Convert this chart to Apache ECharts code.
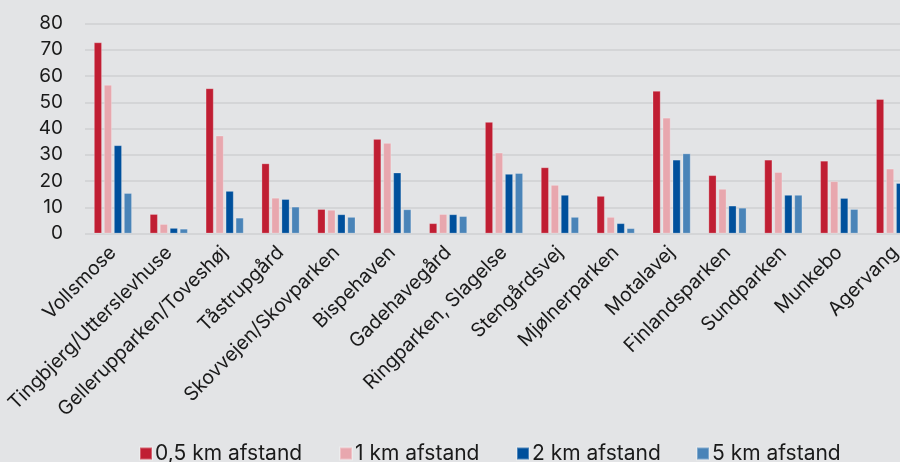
<!DOCTYPE html>
<html>
<head>
<meta charset="utf-8">
<script src="https://cdn.jsdelivr.net/npm/echarts@6/dist/echarts.min.js"></script>
<style>
html,body{margin:0;padding:0;background:#e3e4e6;overflow:hidden;}
#c{width:940px;height:462px;}
</style>
</head>
<body>
<div id="c"></div>
<script>
const categories = ["Vollsmose","Tingbjerg/Utterslevhuse","Gellerupparken/Toveshøj","Tåstrupgård","Skovvejen/Skovparken","Bispehaven","Gadehavegård","Ringparken, Slagelse","Stengårdsvej","Mjølnerparken","Motalavej","Finlandsparken","Sundparken","Munkebo","Agervang"];
const seriesNames = ["0,5 km afstand","1 km afstand","2 km afstand","5 km afstand"];
const km05 = [72.8, 7.4, 55.3, 26.7, 9.3, 36.0, 3.9, 42.5, 25.2, 14.3, 54.3, 22.2, 28.1, 27.7, 51.2];
const km1  = [56.6, 3.6, 37.3, 13.6, 9.0, 34.5, 7.4, 30.8, 18.5, 6.3, 44.1, 17.0, 23.4, 19.9, 24.7];
const km2  = [33.6, 2.1, 16.2, 13.1, 7.3, 23.2, 7.3, 22.7, 14.7, 3.9, 28.1, 10.6, 14.7, 13.5, 19.2];
const km5  = [15.4, 1.8, 6.0, 10.2, 6.3, 9.2, 6.6, 23.0, 6.3, 2.0, 30.5, 9.8, 14.7, 9.3, 10.0];
const yTicks = [0,10,20,30,40,50,60,70,80];

const colors = ["#c01e33","#e8a7ae","#00509c","#4a84b8"];
const FONT = "Inter";
const data = [km05, km1, km2, km5];
const legendLefts = [139, 339, 516, 696];

const chart = echarts.init(document.getElementById('c'), null, {renderer:'canvas'});
chart.setOption({
  backgroundColor: "#e3e4e6",
  animation: false,
  color: colors,
  textStyle: {fontFamily: FONT},
  grid: {left: 85, top: 23.5, width: 838, height: 210, containLabel: false},
  legend: seriesNames.map((n, i) => ({
    top: 443,
    left: legendLefts[i],
    itemWidth: 12,
    itemHeight: 12,
    icon: 'rect',
    padding: 0,
    textStyle: {fontFamily: FONT, fontSize: 21, color: "#1a1a1a", padding: [0,0,0,-2]},
    data: [n]
  })),
  xAxis: {
    type: 'category',
    data: categories,
    axisLine: {show: false},
    axisTick: {show: false},
    axisLabel: {rotate: 45, interval: 0, fontFamily: FONT, fontSize: 19.5, color: "#1a1a1a", margin: 16}
  },
  yAxis: {
    type: 'value',
    min: yTicks[0],
    max: yTicks[yTicks.length-1],
    interval: 10,
    axisLine: {show: false},
    axisTick: {show: false},
    axisLabel: {fontFamily: FONT, fontSize: 19, color: "#1a1a1a", margin: 22},
    splitLine: {lineStyle: {color: "#d4d5d7", width: 2}}
  },
  series: seriesNames.map((n, i) => ({
    name: n,
    type: 'bar',
    data: data[i],
    barWidth: 8,
    barGap: '25%',
    itemStyle: {borderColor: 'rgba(255,255,255,0.3)', borderWidth: 0.8}
  }))
});
</script>
</body>
</html>
